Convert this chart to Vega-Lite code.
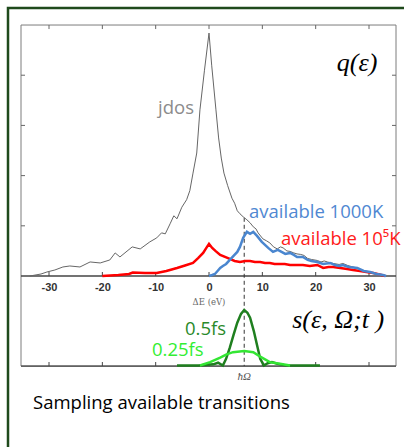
{
  "$schema": "https://vega.github.io/schema/vega-lite/v6.json",
  "width": 396,
  "height": 439,
  "padding": {"left": 8, "top": 8, "right": 0, "bottom": 0},
  "autosize": "none",
  "background": "white",
  "config": {"view": {"stroke": null}, "font": "Open Sans"},
  "datasets": {
    "jdos": [
      {"x": -33.6, "y": 0}, {"x": -31.5, "y": 0.04}, {"x": -30.4, "y": 0.08}, {"x": -28.9, "y": 0.12},
      {"x": -27.4, "y": 0.18}, {"x": -26.1, "y": 0.2}, {"x": -24.2, "y": 0.18}, {"x": -22.3, "y": 0.28},
      {"x": -20.4, "y": 0.26}, {"x": -18.6, "y": 0.32}, {"x": -17.6, "y": 0.46}, {"x": -16.7, "y": 0.38},
      {"x": -14.4, "y": 0.58}, {"x": -12.9, "y": 0.54}, {"x": -11.1, "y": 0.68}, {"x": -9.8, "y": 0.76},
      {"x": -8.9, "y": 0.86}, {"x": -8.2, "y": 0.84}, {"x": -7.3, "y": 1.04}, {"x": -6.6, "y": 1.2},
      {"x": -6.0, "y": 1.14}, {"x": -5.1, "y": 1.37}, {"x": -4.2, "y": 1.52}, {"x": -3.6, "y": 1.7},
      {"x": -3.0, "y": 2.05}, {"x": -2.3, "y": 2.45}, {"x": -1.7, "y": 3.31}, {"x": -0.85, "y": 4.1},
      {"x": 0, "y": 4.84}, {"x": 0.5, "y": 4.2}, {"x": 1.3, "y": 3.31}, {"x": 1.8, "y": 2.75},
      {"x": 2.3, "y": 2.35}, {"x": 2.8, "y": 2.05}, {"x": 3.5, "y": 1.8}, {"x": 4.3, "y": 1.55},
      {"x": 4.8, "y": 1.45}, {"x": 5.3, "y": 1.3}, {"x": 5.8, "y": 1.24}, {"x": 6.4, "y": 1.18},
      {"x": 7.1, "y": 1.12}, {"x": 7.7, "y": 1.06}, {"x": 8.3, "y": 0.98}, {"x": 8.8, "y": 0.94},
      {"x": 9.2, "y": 0.86}, {"x": 10.1, "y": 0.74}, {"x": 10.8, "y": 0.7}, {"x": 11.4, "y": 0.66},
      {"x": 12.1, "y": 0.58}, {"x": 12.8, "y": 0.54}, {"x": 13.4, "y": 0.58}, {"x": 13.9, "y": 0.56},
      {"x": 14.6, "y": 0.5}, {"x": 15.2, "y": 0.49}, {"x": 15.9, "y": 0.46}, {"x": 16.5, "y": 0.44},
      {"x": 17.2, "y": 0.43}, {"x": 17.8, "y": 0.41}, {"x": 18.5, "y": 0.35}, {"x": 19.2, "y": 0.33},
      {"x": 20.3, "y": 0.31}, {"x": 21.0, "y": 0.28}, {"x": 21.6, "y": 0.3}, {"x": 22.2, "y": 0.28},
      {"x": 23.3, "y": 0.25}, {"x": 24.4, "y": 0.23}, {"x": 25.1, "y": 0.25}, {"x": 26.0, "y": 0.21},
      {"x": 27.0, "y": 0.18}, {"x": 28.0, "y": 0.15}, {"x": 28.9, "y": 0.11}, {"x": 29.6, "y": 0.08},
      {"x": 30.5, "y": 0.07}, {"x": 31.5, "y": 0.04}, {"x": 32.6, "y": 0.01}, {"x": 33.2, "y": 0}
    ],
    "avail1000": [
      {"x": 0, "y": 0}, {"x": 0.6, "y": 0.02}, {"x": 1.1, "y": 0.04}, {"x": 1.6, "y": 0.1},
      {"x": 2.1, "y": 0.16}, {"x": 2.6, "y": 0.2}, {"x": 3.2, "y": 0.24}, {"x": 3.9, "y": 0.32},
      {"x": 4.6, "y": 0.4}, {"x": 5.3, "y": 0.48}, {"x": 5.8, "y": 0.58}, {"x": 6.4, "y": 0.76},
      {"x": 7.1, "y": 0.88}, {"x": 7.7, "y": 0.84}, {"x": 8.3, "y": 0.88}, {"x": 9.0, "y": 0.8},
      {"x": 9.9, "y": 0.68}, {"x": 10.5, "y": 0.62}, {"x": 11.1, "y": 0.56}, {"x": 12.0, "y": 0.48},
      {"x": 12.9, "y": 0.52}, {"x": 13.6, "y": 0.48}, {"x": 14.3, "y": 0.44}, {"x": 15.2, "y": 0.46},
      {"x": 15.9, "y": 0.42}, {"x": 16.5, "y": 0.38}, {"x": 17.6, "y": 0.38}, {"x": 18.5, "y": 0.32},
      {"x": 19.2, "y": 0.3}, {"x": 20.3, "y": 0.28}, {"x": 21.4, "y": 0.24}, {"x": 22.7, "y": 0.26},
      {"x": 23.6, "y": 0.22}, {"x": 24.4, "y": 0.2}, {"x": 25.1, "y": 0.22}, {"x": 26.2, "y": 0.18},
      {"x": 27.8, "y": 0.16}, {"x": 29.0, "y": 0.1}, {"x": 30.2, "y": 0.08}, {"x": 31.4, "y": 0.04},
      {"x": 32.6, "y": 0.02}, {"x": 33.2, "y": 0}
    ],
    "avail1e5": [
      {"x": -20, "y": 0}, {"x": -17, "y": 0.02}, {"x": -15, "y": 0.04}, {"x": -14.3, "y": 0.07},
      {"x": -12, "y": 0.06}, {"x": -9.8, "y": 0.06}, {"x": -8, "y": 0.1}, {"x": -6.0, "y": 0.16},
      {"x": -4.5, "y": 0.21}, {"x": -3.0, "y": 0.26}, {"x": -2.0, "y": 0.36}, {"x": -1.1, "y": 0.46},
      {"x": -0.5, "y": 0.56}, {"x": 0, "y": 0.64}, {"x": 0.6, "y": 0.56}, {"x": 1.2, "y": 0.5},
      {"x": 2.1, "y": 0.42}, {"x": 3.0, "y": 0.38}, {"x": 3.9, "y": 0.34}, {"x": 4.8, "y": 0.3},
      {"x": 5.8, "y": 0.28}, {"x": 6.8, "y": 0.3}, {"x": 7.7, "y": 0.3}, {"x": 8.6, "y": 0.28},
      {"x": 9.6, "y": 0.28}, {"x": 10.5, "y": 0.26}, {"x": 11.4, "y": 0.26}, {"x": 12.3, "y": 0.24},
      {"x": 13.3, "y": 0.24}, {"x": 14.2, "y": 0.24}, {"x": 15.2, "y": 0.22}, {"x": 16.4, "y": 0.22},
      {"x": 17.6, "y": 0.22}, {"x": 18.9, "y": 0.2}, {"x": 20.3, "y": 0.22}, {"x": 21.4, "y": 0.16},
      {"x": 22.4, "y": 0.18}, {"x": 23.3, "y": 0.18}, {"x": 24.6, "y": 0.16}, {"x": 25.9, "y": 0.14},
      {"x": 27.0, "y": 0.12}, {"x": 28.3, "y": 0.1}, {"x": 29.5, "y": 0.08}, {"x": 30.8, "y": 0.06},
      {"x": 32.0, "y": 0.03}, {"x": 33.0, "y": 0}
    ],
    "s05": [
      {"x": -6, "y": 0}, {"x": -2, "y": 0}, {"x": 0.8, "y": 0.02}, {"x": 1.7, "y": 0.05},
      {"x": 2.6, "y": 0}, {"x": 3.2, "y": 0.12}, {"x": 3.9, "y": 0.32}, {"x": 4.6, "y": 0.55},
      {"x": 5.3, "y": 0.77}, {"x": 6.0, "y": 0.93}, {"x": 6.6, "y": 1.0}, {"x": 7.2, "y": 0.95},
      {"x": 7.7, "y": 0.86}, {"x": 8.4, "y": 0.62}, {"x": 9.0, "y": 0.37}, {"x": 9.6, "y": 0.12},
      {"x": 10.3, "y": 0}, {"x": 11.0, "y": 0.04}, {"x": 11.8, "y": 0.06}, {"x": 12.8, "y": 0.03},
      {"x": 14.0, "y": 0.01}, {"x": 15.2, "y": 0}, {"x": 20.8, "y": 0}
    ],
    "s025": [
      {"x": -1.7, "y": 0}, {"x": 0.2, "y": 0.06}, {"x": 2.1, "y": 0.14}, {"x": 3.3, "y": 0.2},
      {"x": 4.5, "y": 0.24}, {"x": 6.6, "y": 0.26}, {"x": 8.3, "y": 0.24}, {"x": 9.6, "y": 0.16},
      {"x": 11.4, "y": 0.06}, {"x": 13.3, "y": 0.03}, {"x": 15.2, "y": 0}
    ],
    "xticks": [{"v": -30}, {"v": -20}, {"v": -10}, {"v": 0}, {"v": 10}, {"v": 20}, {"v": 30}],
    "yticks": [{"v": 1}, {"v": 2}, {"v": 3}, {"v": 4}]
  },
  "layer": [
    {
      "layer": [
        {
          "data": {"values": [{}]},
          "mark": {"type": "rect", "fillOpacity": 0, "stroke": "#1f4a1c", "strokeWidth": 2.5, "clip": false},
          "encoding": {
            "x": {"datum": -37.69, "type": "quantitative", "scale": {"domain": [-37.69, 36.56], "nice": false, "zero": false},
                  "axis": {"values": [-30, -20, -10, 0, 10, 20, 30], "offset": -171, "domain": false, "ticks": false, "grid": false,
                           "title": null, "labelPadding": 5, "labelFont": "Liberation Sans", "labelFontWeight": "bold",
                           "labelFontSize": 11, "labelColor": "#333", "labelExpr": "toString(datum.value)"}},
            "x2": {"datum": 80},
            "y": {"datum": 5.339, "type": "quantitative", "scale": {"domain": [-3.406, 5.339], "nice": false, "zero": false}, "axis": null},
            "y2": {"datum": -20}
          }
        },
        {
          "data": {"values": [{}]},
          "mark": {"type": "rect", "fillOpacity": 0, "stroke": "#7d7d7d", "strokeWidth": 1},
          "encoding": {
            "x": {"datum": -35.25, "type": "quantitative"}, "x2": {"datum": 35.06},
            "y": {"datum": 5.0, "type": "quantitative"}, "y2": {"datum": -1.793}
          }
        },
        {
          "data": {"values": [{}]},
          "mark": {"type": "rule", "stroke": "#444", "strokeWidth": 1.3},
          "encoding": {
            "x": {"datum": -35.25, "type": "quantitative"}, "x2": {"datum": 35.06},
            "y": {"datum": 0, "type": "quantitative"}
          }
        },
        {
          "data": {"values": [{}]},
          "mark": {"type": "rule", "stroke": "#444", "strokeWidth": 1.3},
          "encoding": {
            "x": {"datum": -35.25, "type": "quantitative"}, "x2": {"datum": 35.06},
            "y": {"datum": -1.793, "type": "quantitative"}
          }
        },
        {
          "data": {"name": "xticks"},
          "mark": {"type": "rule", "stroke": "#666", "strokeWidth": 1},
          "encoding": {"x": {"field": "v", "type": "quantitative"}, "y": {"datum": 5.0, "type": "quantitative"}, "y2": {"datum": 4.92}}
        },
        {
          "data": {"name": "xticks"},
          "mark": {"type": "rule", "stroke": "#444", "strokeWidth": 1},
          "encoding": {"x": {"field": "v", "type": "quantitative"}, "y": {"datum": 0, "type": "quantitative"}, "y2": {"datum": 0.08}}
        },
        {
          "data": {"name": "xticks"},
          "mark": {"type": "rule", "stroke": "#444", "strokeWidth": 1},
          "encoding": {"x": {"field": "v", "type": "quantitative"}, "y": {"datum": -1.793, "type": "quantitative"}, "y2": {"datum": -1.713}}
        },
        {
          "data": {"name": "yticks"},
          "mark": {"type": "rule", "stroke": "#666", "strokeWidth": 1},
          "encoding": {"y": {"field": "v", "type": "quantitative"}, "x": {"datum": -35.25, "type": "quantitative"}, "x2": {"datum": -34.5}}
        },
        {
          "data": {"name": "yticks"},
          "mark": {"type": "rule", "stroke": "#666", "strokeWidth": 1},
          "encoding": {"y": {"field": "v", "type": "quantitative"}, "x": {"datum": 35.06, "type": "quantitative"}, "x2": {"datum": 34.31}}
        },
        {
          "data": {"values": [{}]},
          "mark": {"type": "rule", "stroke": "#333", "strokeWidth": 1, "strokeDash": [4, 3]},
          "encoding": {"x": {"datum": 6.6, "type": "quantitative"}, "y": {"datum": 1.16, "type": "quantitative"}, "y2": {"datum": -1.793}}
        },
        {
          "data": {"name": "jdos"},
          "mark": {"type": "line", "stroke": "#666", "strokeWidth": 1},
          "encoding": {"x": {"field": "x", "type": "quantitative"}, "y": {"field": "y", "type": "quantitative"}}
        },
        {
          "data": {"name": "avail1e5"},
          "mark": {"type": "line", "stroke": "#ff0000", "strokeWidth": 2.5},
          "encoding": {"x": {"field": "x", "type": "quantitative"}, "y": {"field": "y", "type": "quantitative"}}
        },
        {
          "data": {"name": "avail1000"},
          "mark": {"type": "line", "stroke": "#4a86cf", "strokeWidth": 2.5},
          "encoding": {"x": {"field": "x", "type": "quantitative"}, "y": {"field": "y", "type": "quantitative"}}
        },
        {
          "data": {"values": [{}]},
          "mark": {"type": "text", "text": "jdos", "align": "left", "baseline": "middle", "fontSize": 18.5, "color": "#8c8c8c"},
          "encoding": {"x": {"datum": -9.56, "type": "quantitative"}, "y": {"datum": 3.35, "type": "quantitative"}}
        },
        {
          "data": {"values": [{}]},
          "mark": {"type": "text", "text": "available 1000K", "align": "left", "baseline": "middle", "fontSize": 18.5, "color": "#5088d2"},
          "encoding": {"x": {"datum": 7.5, "type": "quantitative"}, "y": {"datum": 1.275, "type": "quantitative"}}
        },
        {
          "data": {"values": [{}]},
          "mark": {"type": "text", "text": "available 10⁵K", "align": "left", "baseline": "middle", "fontSize": 18.5, "color": "#ff1a1a"},
          "encoding": {"x": {"datum": 13.5, "type": "quantitative"}, "y": {"datum": 0.737, "type": "quantitative"}}
        },
        {
          "data": {"values": [{}]},
          "mark": {"type": "text", "text": "q(ε)", "align": "center", "baseline": "middle", "font": "Liberation Serif", "fontStyle": "italic", "fontSize": 26, "color": "#000"},
          "encoding": {"x": {"datum": 27.75, "type": "quantitative"}, "y": {"datum": 4.24, "type": "quantitative"}}
        },
        {
          "data": {"values": [{}]},
          "mark": {"type": "text", "text": "ΔE (eV)", "align": "center", "baseline": "middle", "font": "DejaVu Serif", "fontSize": 8.5, "color": "#666"},
          "encoding": {"x": {"datum": 0, "type": "quantitative"}, "y": {"datum": -0.518, "type": "quantitative"}}
        }
      ]
    },
    {
      "layer": [
        {
          "data": {"name": "s05"},
          "mark": {"type": "line", "stroke": "#1f7f1f", "strokeWidth": 2.5},
          "encoding": {
            "x": {"field": "x", "type": "quantitative"},
            "y": {"field": "y", "type": "quantitative", "scale": {"domain": [-1.469, 6.441], "nice": false, "zero": false}, "axis": null}
          }
        },
        {
          "data": {"name": "s025"},
          "mark": {"type": "line", "stroke": "#33e633", "strokeWidth": 2.5},
          "encoding": {"x": {"field": "x", "type": "quantitative"}, "y": {"field": "y", "type": "quantitative"}}
        },
        {
          "data": {"values": [{}]},
          "mark": {"type": "text", "text": "s(ε, Ω;t )", "align": "left", "baseline": "middle", "font": "Liberation Serif", "fontStyle": "italic", "fontSize": 26, "color": "#000"},
          "encoding": {"x": {"datum": 15.6, "type": "quantitative"}, "y": {"datum": 0.82, "type": "quantitative"}}
        },
        {
          "data": {"values": [{}]},
          "mark": {"type": "text", "text": "0.5fs", "align": "left", "baseline": "middle", "fontSize": 18.5, "color": "#2a8a2a"},
          "encoding": {"x": {"datum": -4.5, "type": "quantitative"}, "y": {"datum": 0.658, "type": "quantitative"}}
        },
        {
          "data": {"values": [{}]},
          "mark": {"type": "text", "text": "0.25fs", "align": "left", "baseline": "middle", "fontSize": 18.5, "color": "#33ee33"},
          "encoding": {"x": {"datum": -10.7, "type": "quantitative"}, "y": {"datum": 0.279, "type": "quantitative"}}
        },
        {
          "data": {"values": [{}]},
          "mark": {"type": "text", "text": "ħΩ", "align": "center", "baseline": "middle", "font": "Liberation Serif", "fontStyle": "italic", "fontSize": 11, "color": "#555"},
          "encoding": {"x": {"datum": 6.6, "type": "quantitative"}, "y": {"datum": -0.207, "type": "quantitative"}}
        },
        {
          "data": {"values": [{}]},
          "mark": {"type": "text", "text": "Sampling available transitions", "align": "left", "baseline": "middle", "fontSize": 18.5, "color": "#000"},
          "encoding": {"x": {"datum": -33.0, "type": "quantitative"}, "y": {"datum": -0.676, "type": "quantitative"}}
        }
      ]
    }
  ],
  "resolve": {"scale": {"y": "independent"}}
}
